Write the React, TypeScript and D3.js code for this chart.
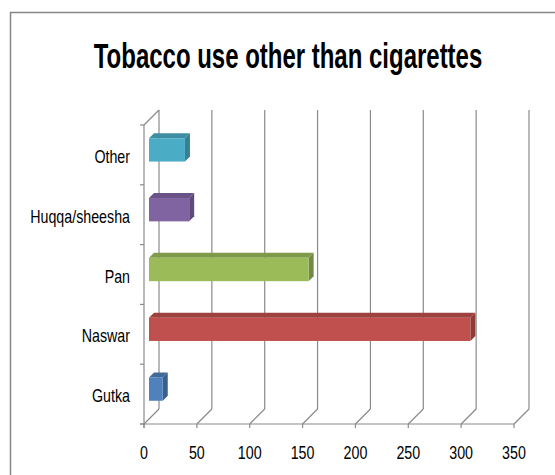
import React from "react";
import * as d3 from "d3";

const categories = ["Gutka", "Naswar", "Pan", "Huqqa/sheesha", "Other"];
const values = [13, 304, 151, 38, 34];
const frontColors = ["#4F81BD", "#C0504D", "#9BBB59", "#8064A2", "#4BACC6"];
const xTicks = [0, 50, 100, 150, 200, 250, 300, 350];
const title = "Tobacco use other than cigarettes";

const W = 555;
const H = 475;
const DEPTH = 15;
const BAR_FRONT = 5;
const BAR_DEPTH = 5;
const GRID = "#8a8a8a";
const FONT = "'Liberation Sans', Arial, sans-serif";

export default function App() {
  const x = d3.scaleLinear().domain([0, 350]).range([144, 514]);
  const y = d3
    .scaleBand<string>()
    .domain([...categories].reverse())
    .range([125, 424])
    .padding(0);
  const bw = y.bandwidth();
  const barH = bw * 0.39;
  const yTop = 125;
  const yBot = 424;
  const boundaries = [...categories].reverse().map((c) => y(c) as number).concat([yBot]);

  return (
    <svg
      width={W}
      height={H}
      style={{ position: "absolute", left: 0, top: 0, background: "#fff" }}
    >
      <rect x={10.5} y={12.5} width={600} height={600} fill="#fff" stroke="#878787" strokeWidth={1.5} />
      <g transform={`translate(288,68) scale(0.666,1)`}>
        <text
          textAnchor="middle"
          fontFamily={FONT}
          fontWeight="bold"
          fontSize={36}
          fill="#000"
        >
          {title}
        </text>
      </g>

      {/* back wall gridlines */}
      {xTicks.map((t) => (
        <line
          key={"g" + t}
          x1={x(t) + DEPTH}
          x2={x(t) + DEPTH}
          y1={yTop - DEPTH}
          y2={yBot - DEPTH}
          stroke={GRID}
          strokeWidth={1.2}
        />
      ))}
      {/* floor diagonals */}
      {xTicks.map((t) => (
        <line
          key={"f" + t}
          x1={x(t)}
          y1={yBot}
          x2={x(t) + DEPTH}
          y2={yBot - DEPTH}
          stroke={GRID}
          strokeWidth={1.2}
        />
      ))}
      {/* left wall top diagonal */}
      <line x1={x(0)} y1={yTop} x2={x(0) + DEPTH} y2={yTop - DEPTH} stroke={GRID} strokeWidth={1.2} />
      {/* floor front edge */}
      <line x1={x(0) - 4} y1={yBot} x2={x(350)} y2={yBot} stroke={GRID} strokeWidth={1.2} />
      {/* left axis */}
      <line x1={x(0)} y1={yTop} x2={x(0)} y2={yBot + 4} stroke={GRID} strokeWidth={1.2} />
      {boundaries.map((b, i) => (
        <line key={"lt" + i} x1={x(0) - 4} x2={x(0)} y1={b} y2={b} stroke={GRID} strokeWidth={1.2} />
      ))}
      {xTicks.map((t) => (
        <line key={"bt" + t} x1={x(t)} x2={x(t)} y1={yBot} y2={yBot + 4} stroke={GRID} strokeWidth={1.2} />
      ))}

      {/* bars */}
      {categories.map((c, i) => {
        const v = values[i];
        const col = d3.color(frontColors[i]) as d3.RGBColor;
        const topCol = col.darker(0.55).formatHex();
        const sideCol = col.darker(0.85).formatHex();
        const yc = (y(c) as number) + bw / 2 - BAR_FRONT;
        const x0 = x(0) + BAR_FRONT;
        const x1 = x(v) + BAR_FRONT;
        const t0 = yc - barH / 2;
        const b0 = yc + barH / 2;
        const d = BAR_DEPTH;
        return (
          <g key={c}>
            <polygon
              points={`${x0},${t0} ${x1},${t0} ${x1 + d},${t0 - d} ${x0 + d},${t0 - d}`}
              fill={topCol}
            />
            <polygon
              points={`${x1},${t0} ${x1 + d},${t0 - d} ${x1 + d},${b0 - d} ${x1},${b0}`}
              fill={sideCol}
            />
            <rect x={x0} y={t0} width={x1 - x0} height={b0 - t0} fill={frontColors[i]} />
          </g>
        );
      })}

      {/* category labels */}
      {categories.map((c) => (
        <g key={"l" + c} transform={`translate(130,${(y(c) as number) + bw / 2 + 8}) scale(0.75,1)`}>
          <text textAnchor="end" fontFamily={FONT} fontSize={19} fill="#000">
            {c}
          </text>
        </g>
      ))}

      {/* x tick labels */}
      {xTicks.map((t) => (
        <g key={"xl" + t} transform={`translate(${x(t)},459) scale(0.75,1)`}>
          <text textAnchor="middle" fontFamily={FONT} fontSize={19} fill="#000">
            {t}
          </text>
        </g>
      ))}
    </svg>
  );
}
